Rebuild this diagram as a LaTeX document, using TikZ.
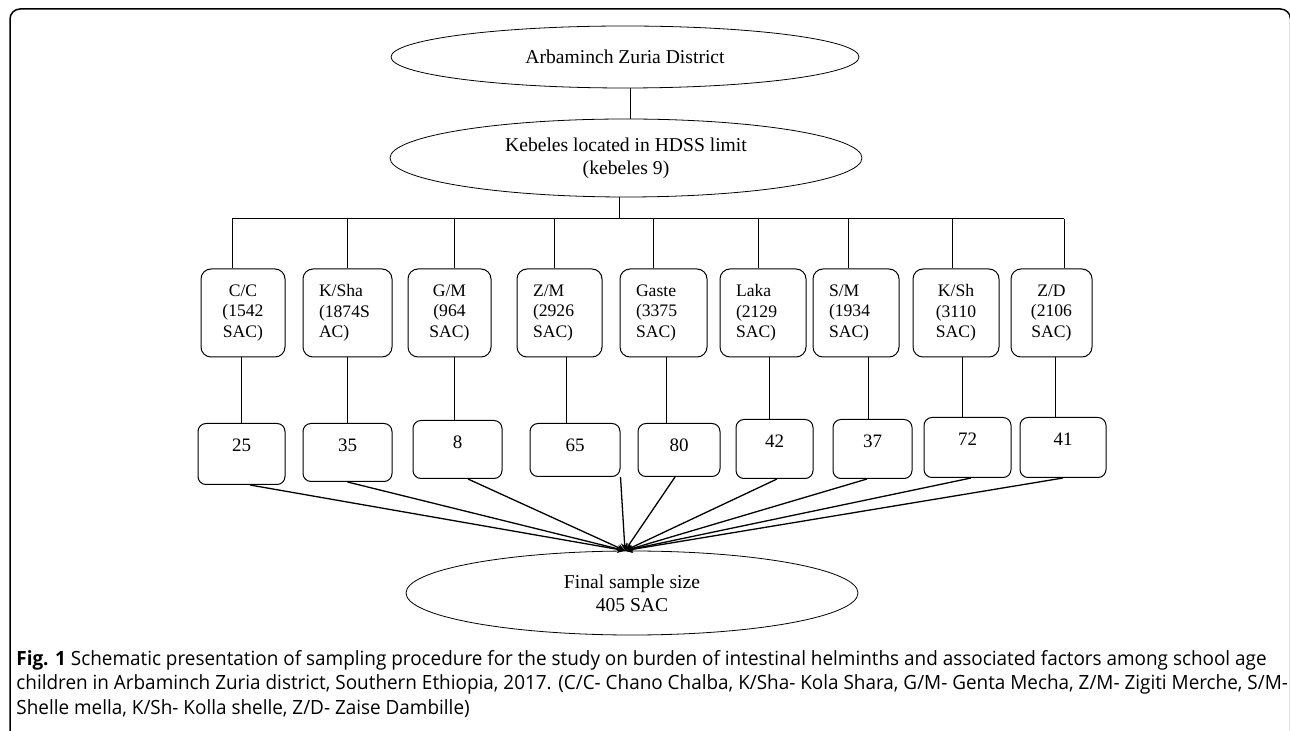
\documentclass[tikz,border=0pt]{standalone}
\usepackage{fontspec}
\setmainfont{Liberation Serif}
\newfontfamily\capfont[FakeStretch=0.965]{Open Sans}
\usepackage{tikz}
\usetikzlibrary{shapes,arrows,positioning,calc}

\begin{document}
\begin{tikzpicture}[x=0.5pt,y=-0.5pt]
    % Define styles
    \tikzstyle{frame} = [draw=black, line width=0.75pt, rounded corners=5pt]
    \tikzstyle{region} = [ellipse, draw=black, line width=0.4pt, inner sep=0pt, align=center, font=\fontsize{9.8}{11.5}\selectfont]
    \tikzstyle{areabox} = [rectangle, rounded corners=5pt, draw=black, line width=0.5pt, minimum height=44pt, inner xsep=8pt, inner ysep=0pt, align=center, font=\fontsize{8.8}{10.35}\selectfont]
    \tikzstyle{leftbox} = [areabox, align=left]
    \tikzstyle{countbox} = [rectangle, rounded corners=4pt, draw=black, line width=0.5pt, anchor=north, inner xsep=0pt, inner ysep=4pt, text height=10.1pt, font=\fontsize{9.5}{11}\selectfont]
    \tikzstyle{line} = [draw=black, line width=0.5pt]
    \tikzstyle{arrow} = [line width=0.65pt,->,>=stealth]
    \tikzstyle{caption} = [anchor=north west, inner sep=0pt, align=left, font=\capfont\fontsize{9.8}{12.3}\selectfont]

    \useasboundingbox (0,0) rectangle (1290,731);
    \clip (0,0) rectangle (1290,731);
    \draw[frame] (10,9) rectangle (1290.5,760);

    % Nodes
    \node (district) [region, minimum width=234pt, minimum height=31pt] at (625,57) {Arbaminch Zuria District};
    \node (kebeles) [region, minimum width=236pt, minimum height=39pt] at (626,158) {Kebeles located in HDSS limit\\(kebeles 9)};

    \node (cc) [areabox, text width=26pt] at (243,313) {C/C\\(1542\\SAC)};
    \node (ksha) [leftbox, text width=28.5pt] at (347.5,313) {K/Sha\\(1874S\\AC)};
    \node (gm) [areabox, text width=25.5pt] at (449.5,313) {G/M\\(964\\SAC)};
    \node (zm) [leftbox, text width=26.5pt] at (559.5,313) {Z/M\\(2926\\SAC)};
    \node (gaste) [leftbox, text width=27.5pt] at (663.5,313) {Gaste\\(3375\\SAC)};
    \node (laka) [leftbox, text width=27pt] at (763,313) {Laka\\(2129\\SAC)};
    \node (sm) [leftbox, text width=27pt] at (856,313) {S/M\\(1934\\SAC)};
    \node (ksh) [areabox, text width=27pt] at (956,313) {K/Sh\\(3110\\SAC)};
    \node (zd) [areabox, text width=24.5pt] at (1051.5,313) {Z/D\\(2106\\SAC)};

    \node (n25) [countbox, minimum width=43.5pt, text depth=12.4pt] at (241.5,423) {25};
    \node (n35) [countbox, minimum width=44.5pt, text depth=10.9pt] at (347.5,423) {35};
    \node (n8) [countbox, minimum width=44.5pt, text depth=10.9pt] at (457.5,420) {8};
    \node (n65) [countbox, minimum width=45pt, text depth=8.4pt] at (575,423) {65};
    \node (n80) [countbox, minimum width=41pt, text depth=8.4pt] at (679,423) {80};
    \node (n42) [countbox, minimum width=38.5pt, text depth=11.4pt] at (774.5,419) {42};
    \node (n37) [countbox, minimum width=39.5pt, text depth=11.4pt] at (872.5,419) {37};
    \node (n72) [countbox, minimum width=43.5pt, text depth=11.9pt] at (967.5,417) {72};
    \node (n41) [countbox, minimum width=43pt, text depth=11.9pt] at (1063,417) {41};

    \node (final) [region, minimum width=226pt, minimum height=42pt] at (632,593) {Final sample size\\405 SAC};

    \node (cap) [caption] at (16,650) {\textbf{Fig. 1} Schematic presentation of sampling procedure for the study on burden of intestinal helminths and associated factors among school age\\children in Arbaminch Zuria district, Southern Ethiopia, 2017. (C/C- Chano Chalba, K/Sha- Kola Shara, G/M- Genta Mecha, Z/M- Zigiti Merche, S/M-\\Shelle mella, K/Sh- Kolla shelle, Z/D- Zaise Dambille)};

    \coordinate (busleft) at (232,219);
    \coordinate (busright) at (1064,219);

    % Lines
    \draw [line] ([xshift=2.5pt]district.south) -- ([xshift=2.5pt]district.south |- kebeles.north);
    \draw [line] ([xshift=-3.5pt]kebeles.south) -- ([xshift=-3.5pt]kebeles.south |- busleft);
    \draw [line] (busleft) -- (busright);

    \draw [line] ([xshift=-5.5pt]cc.north) -- ([xshift=-5.5pt]cc.north |- busleft);
    \draw [line] (ksha.north) -- (ksha.north |- busleft);
    \draw [line] ([xshift=2.25pt]gm.north) -- ([xshift=2.25pt]gm.north |- busleft);
    \draw [line] ([xshift=-2.75pt]zm.north) -- ([xshift=-2.75pt]zm.north |- busleft);
    \draw [line] ([xshift=-5.25pt]gaste.north) -- ([xshift=-5.25pt]gaste.north |- busleft);
    \draw [line] ([xshift=-2.5pt]laka.north) -- ([xshift=-2.5pt]laka.north |- busleft);
    \draw [line] ([xshift=-4pt]sm.north) -- ([xshift=-4pt]sm.north |- busleft);
    \draw [line] ([xshift=-2pt]ksh.north) -- ([xshift=-2pt]ksh.north |- busleft);
    \draw [line] ([xshift=6.25pt]zd.north) -- ([xshift=6.25pt]zd.north |- busright);

    \draw [line] ([xshift=-1pt]cc.south) -- ([xshift=-1pt]cc.south |- n25.north);
    \draw [line] (ksha.south) -- (ksha.south |- n35.north);
    \draw [line] ([xshift=2.25pt]gm.south) -- ([xshift=2.25pt]gm.south |- n8.north);
    \draw [line] ([xshift=3.25pt]zm.south) -- ([xshift=3.25pt]zm.south |- n65.north);
    \draw [line] ([xshift=1.25pt]gaste.south) -- ([xshift=1.25pt]gaste.south |- n80.north);
    \draw [line] ([xshift=3pt]laka.south) -- ([xshift=3pt]laka.south |- n42.north);
    \draw [line] ([xshift=6pt]sm.south) -- ([xshift=6pt]sm.south |- n37.north);
    \draw [line] ([xshift=3.25pt]ksh.south) -- ([xshift=3.25pt]ksh.south |- n72.north);
    \draw [line] ([xshift=1.75pt]zd.south) -- ([xshift=1.75pt]zd.south |- n41.north);

    % Arrows
    \draw [arrow] ([xshift=4.25pt]n25.south) -- ([xshift=-3.5pt]final.north);
    \draw [arrow] (n35.south) -- ([xshift=-3.5pt]final.north);
    \draw [arrow] ([xshift=5.25pt]n8.south) -- ([xshift=-3.5pt]final.north);
    \draw [arrow] (n65.south east) -- ([xshift=-3.5pt]final.north);
    \draw [arrow] ([xshift=-2pt]n80.south) -- ([xshift=-3.5pt]final.north);
    \draw [arrow] ([xshift=1.25pt]n42.south) -- ([xshift=-3.5pt]final.north);
    \draw [arrow] ([xshift=-2.75pt]n37.south) -- ([xshift=-3.5pt]final.north);
    \draw [arrow] ([xshift=1.75pt]n72.south) -- ([xshift=-3.5pt]final.north);
    \draw [arrow] (n41.south) -- ([xshift=-3.5pt]final.north);
\end{tikzpicture}
\end{document}
